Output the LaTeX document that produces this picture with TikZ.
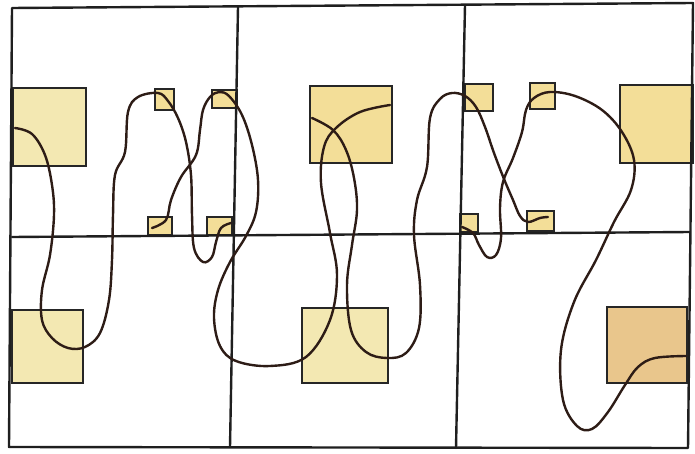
\documentclass[tikz,border=0pt]{standalone}
\begin{document}
\begin{tikzpicture}[x=1pt,y=-1pt,
  frame/.style={draw=black!88,line width=2.4pt,line cap=round,line join=round},
  pad/.style={draw=black!85,line width=2pt,fill=#1},
  pad/.default=padyellow,
  wire/.style={draw=wirebrown,line width=2.4pt,line cap=round,smooth,tension=0.6}]
\definecolor{padyellow}{RGB}{243,232,178}
\definecolor{padgold}{RGB}{243,222,152}
\definecolor{padorange}{RGB}{233,198,140}
\definecolor{wirebrown}{RGB}{45,28,22}
\useasboundingbox (0,0) rectangle (695,454);
% pads
\path[pad] (13,88) rectangle (86,166);
\path[pad] (12,310) rectangle (83,383);
\path[pad=padgold] (310,86) rectangle (392,163);
\path[pad] (302,308) rectangle (388,383);
\path[pad=padgold] (620,85) rectangle (693,163);
\path[pad=padorange] (607,307) rectangle (687,383);
% small pads
\path[pad=padgold] (155,89) rectangle (174,110);
\path[pad=padgold] (212,90) rectangle (237,108);
\path[pad=padgold] (148,217) rectangle (172,235);
\path[pad=padgold] (207,217) rectangle (232,235);
\path[pad=padgold] (465,84) rectangle (493,111);
\path[pad=padgold] (530,83) rectangle (555,109);
\path[pad=padgold] (460,214) rectangle (478,232);
\path[pad=padgold] (527,211) rectangle (554,231);
% frame
\draw[frame] (12,8) -- (693,3) -- (688,448) -- (9,447) -- cycle;
\draw[frame] (12,237) -- (690,232);
\draw[frame] (238,7) -- (230,447);
\draw[frame] (465,5) -- (456,448);
% wires
\draw[wire] plot coordinates {(15,128) (32,134) (45,155) (52,185) (54,215) (50,255) (42,290) (42,320) (52,338) (68,348) (85,347) (100,333) (109,300) (112,260) (113,215) (115,175) (125,152) (128,112) (138,97) (158,93) (168,101) (178,118) (186,142) (191,175) (192,215) (194,248) (203,262) (212,257) (216,242) (221,228) (231,223)};
\draw[wire] plot coordinates {(152,228) (166,220) (171,200) (181,177) (196,155) (200,130) (203,110) (210,97) (219,92) (229,96) (242,115) (252,145) (258,180) (256,212) (246,236) (230,262) (218,290) (214,318) (220,346) (236,361) (270,366) (306,357) (330,320) (337,275) (330,233) (321,183) (324,147) (336,128) (360,112) (390,105)};
\draw[wire] plot coordinates {(312,118) (333,130) (346,150) (354,178) (357,210) (352,245) (347,285) (351,330) (366,352) (387,358) (406,353) (419,328) (420,285) (414,235) (417,200) (427,167) (430,118) (440,99) (452,93) (465,96) (476,107) (485,127) (494,153) (504,179) (513,200) (520,216) (528,222) (540,218) (548,217)};
\draw[wire] plot coordinates {(462,227) (473,233) (479,245) (487,257) (496,255) (501,238) (500,208) (503,182) (513,158) (522,132) (526,110) (534,98) (550,92) (575,96) (602,110) (622,132) (634,160) (631,190) (614,222) (596,260) (574,302) (561,350) (563,400) (577,426) (592,429) (608,412) (625,385) (638,367) (655,358) (686,356)};
\end{tikzpicture}
\end{document}
